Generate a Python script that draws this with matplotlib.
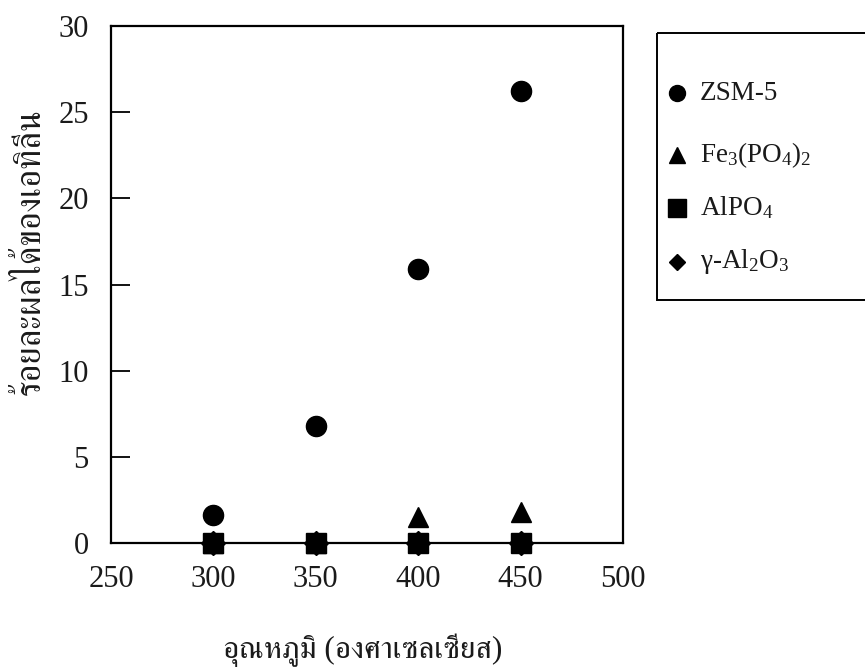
import matplotlib
matplotlib.use("Agg")
import matplotlib.pyplot as plt
from matplotlib.patches import Rectangle

plt.rcParams["font.family"] = ["Liberation Serif", "FreeSerif", "DejaVu Serif"]
plt.rcParams["mathtext.fontset"] = "custom"
plt.rcParams["mathtext.rm"] = "Liberation Serif"
plt.rcParams["mathtext.it"] = "Liberation Serif:italic"

# reaction temperature (deg C) and ethylene yield (%) per catalyst
temps = [300, 350, 400, 450]
zsm5 = [1.6, 6.8, 15.9, 26.2]
fe_phos = [0.0, 0.0, 1.5, 1.8]
alpo4 = [0.0, 0.0, 0.0, 0.0]
gamma_alumina = [0.0, 0.0, 0.0, 0.0]

labels = ["ZSM-5", r"Fe$_3$(PO$_4$)$_2$", r"AlPO$_4$", r"γ-Al$_2$O$_3$"]
markers = ["o", "^", "s", "D"]
xlabel = "อุณหภูมิ (องศาเซลเซียส)"
ylabel = "ร้อยละผลได้ของเอทิลีน"

W, H = 865, 671
fig = plt.figure(figsize=(W / 100, H / 100), dpi=100)
ax = fig.add_axes([111 / W, 1 - 543 / H, (623 - 111) / W, (543 - 26) / H])

ax.plot(temps, gamma_alumina, "D", color="black", ms=12, zorder=3,
        clip_on=False)
ax.plot(temps, fe_phos, "^", color="black", ms=14, zorder=3, clip_on=False)
ax.plot(temps, alpo4, "s", color="black", ms=15, zorder=5, clip_on=False)
ax.plot(temps, zsm5, "o", color="black", ms=14.5, zorder=4)

ax.set_xlim(250, 500)
ax.set_ylim(0, 30)
ax.set_xticks([250, 300, 350, 400, 450, 500])
ax.set_yticks([0, 5, 10, 15, 20, 25, 30])
ax.tick_params(axis="y", direction="in", length=14, width=1.3, pad=16,
               labelsize=22, labelcolor="#1a1a1a")
ax.tick_params(axis="x", length=0, pad=16, labelsize=22,
               labelcolor="#1a1a1a")
for s in ax.spines.values():
    s.set_linewidth(1.6)

# pixel-space overlay for axis titles and the legend panel
ov = fig.add_axes([0, 0, 1, 1], facecolor="none")
ov.set_xlim(0, W)
ov.set_ylim(H, 0)
ov.axis("off")

ov.text(363, 650, xlabel, fontsize=22.5, ha="center", va="center",
        color="#1a1a1a")
ov.text(31, 252, ylabel, fontsize=25, rotation=90, ha="center", va="center",
        color="#1a1a1a")

ov.add_patch(Rectangle((657, 33), 260, 267, fill=False, edgecolor="black",
                       linewidth=1.4, clip_on=False))
rows = [93, 155, 208, 262]
sizes = [11.5, 12, 13, 8.5]
for y, m, ms, lab in zip(rows, markers, sizes, labels):
    ov.plot([677], [y], m, color="black", ms=ms)
    ov.text(700, y, lab, fontsize=19.5, ha="left", va="center",
            color="#1a1a1a")

fig.savefig("out.png", dpi=100)
